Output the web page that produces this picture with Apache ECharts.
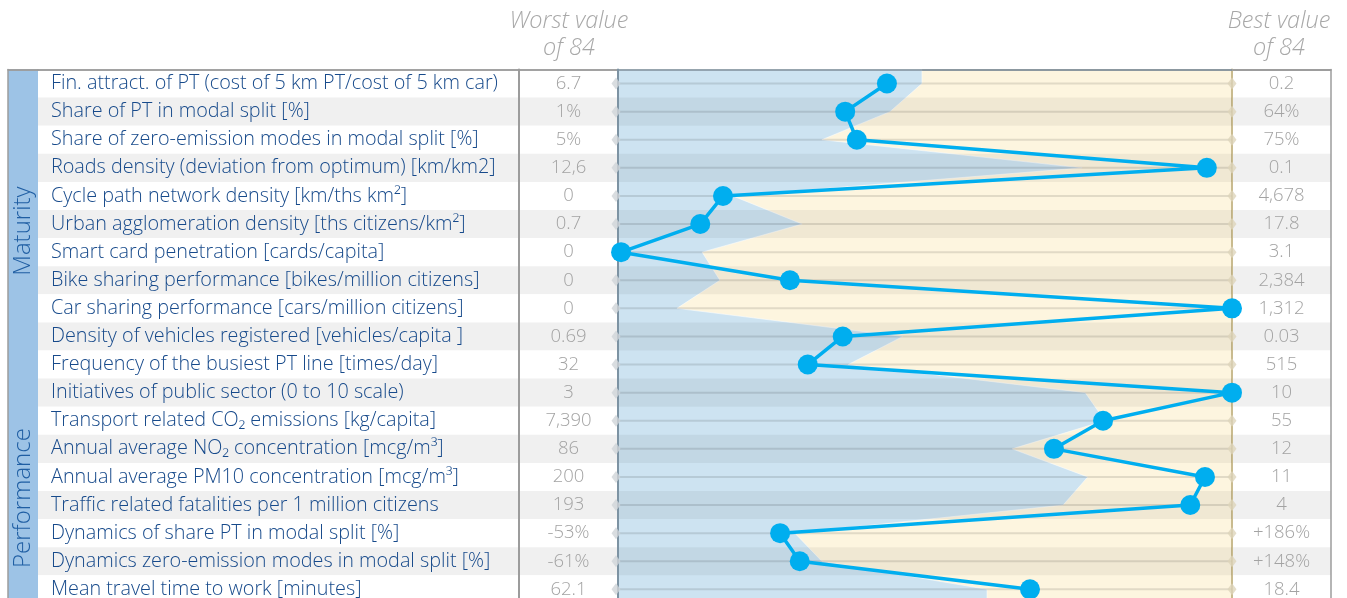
<!DOCTYPE html>
<html>
<head>
<meta charset="utf-8">
<script src="https://cdn.jsdelivr.net/npm/echarts@6/dist/echarts.min.js"></script>
<style>
  html, body { margin: 0; padding: 0; background: #fff; }
  #chart { width: 1347px; height: 598px; }
</style>
</head>
<body>
<div id="chart"></div>
<script>
// indicator rows, top to bottom
const indicators = [
    'Fin. attract. of PT (cost of 5 km PT/cost of 5 km car)',
    'Share of PT in modal split [%]',
    'Share of zero-emission modes in modal split [%]',
    'Roads density (deviation from optimum) [km/km2]',
    'Cycle path network density [km/ths km\u00b2]',
    'Urban agglomeration density [ths citizens/km\u00b2]',
    'Smart card penetration [cards/capita]',
    'Bike sharing performance [bikes/million citizens]',
    'Car sharing performance [cars/million citizens]',
    'Density of vehicles registered [vehicles/capita ]',
    'Frequency of the busiest PT line [times/day]',
    'Initiatives of public sector (0 to 10 scale)',
    'Transport related CO\u2082 emissions [kg/capita]',
    'Annual average NO\u2082 concentration [mcg/m\u00b3]',
    'Annual average PM10 concentration [mcg/m\u00b3]',
    'Traffic related fatalities per 1 million citizens',
    'Dynamics of share PT in modal split [%]',
    'Dynamics zero-emission modes in modal split [%]',
    'Mean travel time to work [minutes]'
];

const worstValues = ['6.7', '1%', '5%', '12,6', '0', '0.7', '0', '0', '0', '0.69',
    '32', '3', '7,390', '86', '200', '193', '-53%', '-61%', '62.1'];

const bestValues = ['0.2', '64%', '75%', '0.1', '4,678', '17.8', '3.1', '2,384', '1,312', '0.03',
    '515', '10', '55', '12', '11', '4', '+186%', '+148%', '18.4'];

// city position between worst (0) and best (100)
const cityScore = [43.8, 37.0, 38.9, 95.9, 17.1, 13.4, 0.5, 28.0, 100, 36.6,
    30.9, 100, 79.0, 71.0, 95.6, 93.2, 26.4, 29.6, 67.1];

// average position (blue area)
const averageScore = [49.5, 44.3, 33.2, 75.6, 18.7, 30.0, 13.7, 16.6, 9.6, 46.4,
    37.5, 76.1, 79.3, 64.2, 76.5, 72.5, 28.8, 33.2, 60.1];

// [name, first row, last row]
const groups = [['Maturity', 0, 11], ['Performance', 12, 18]];

const FONT = '"Open Sans", Roboto, sans-serif';
const TOP = 69.5;
const ROW_H = 28.1;
const H = ROW_H * indicators.length;
const BORDER = '#9c9c9c';

const chart = echarts.init(document.getElementById('chart'), null, { renderer: 'canvas' });

const sectionLine = {
    show: true,
    interval: (index) => index === groups[1][1],
    lineStyle: { color: BORDER, width: 1.5 }
};

function grid(left, width, extra) {
    return Object.assign({ left, width, top: TOP, height: H, outerBoundsMode: 'none', containLabel: false }, extra || {});
}

function xAxis(gridIndex, max) {
    return {
        type: 'value', gridIndex, min: 0, max, position: 'top',
        axisLine: { show: true, onZero: false, lineStyle: { color: BORDER, width: 1.5 } },
        axisTick: { show: false }, axisLabel: { show: false }, splitLine: { show: false }
    };
}

function yAxis(gridIndex, extra) {
    return Object.assign({
        type: 'category', gridIndex, data: indicators, inverse: true,
        axisTick: { show: false },
        axisLine: { show: false },
        axisLabel: { show: false },
        splitLine: sectionLine
    }, extra || {});
}

const zebra = { show: true, areaStyle: { color: ['#ffffff', '#f0f0f0'] } };
const valueLabel = (list) => ({
    show: true, inside: true, align: 'center', margin: 49.5,
    color: '#a3a3a3', fontSize: 18.5, fontWeight: 300, fontFamily: FONT,
    formatter: (v, i) => list[i]
});
const headStyle = { fontStyle: 'italic', fontWeight: 300, fontSize: 23.5, lineHeight: 27, color: '#a8a8a8', fontFamily: FONT };

const option = {
    animation: false,
    backgroundColor: '#ffffff',
    title: [
        { text: 'Worst value\nof 84', left: 569, top: 8, textAlign: 'center', padding: 0, textStyle: headStyle },
        { text: 'Best value\nof 84', left: 1279, top: 8, textAlign: 'center', padding: 0, textStyle: headStyle }
    ],
    grid: [
        grid(8, 30, { show: true, backgroundColor: '#9dc3e6', borderWidth: 0 }),
        grid(38, 481),
        grid(519, 99),
        grid(618, 614, { show: true, backgroundColor: '#fdf5df', borderWidth: 0 }),
        grid(1232, 99)
    ],
    xAxis: [xAxis(0, 1), xAxis(1, 1), xAxis(2, 1), xAxis(3, 100), xAxis(4, 1)],
    yAxis: [
        yAxis(0, { axisLine: { show: true, lineStyle: { color: BORDER, width: 1.5 } } }),
        yAxis(1, {
            splitArea: zebra,
            axisLabel: { show: true, inside: true, align: 'left', margin: 13, color: '#174a8b', fontSize: 19.8, fontWeight: 300, fontFamily: FONT }
        }),
        yAxis(2, {
            splitArea: zebra,
            axisLine: { show: true, lineStyle: { color: BORDER, width: 2 } },
            axisLabel: valueLabel(worstValues)
        }),
        yAxis(3, {
            z: 3,
            axisLine: { show: true, lineStyle: { color: '#7d93a3', width: 2 } },
            splitLine: Object.assign({}, sectionLine, { lineStyle: { color: '#7f8f9b', width: 1.5 } })
        }),
        yAxis(4, {
            splitArea: zebra,
            axisLine: { show: true, lineStyle: { color: '#c9bb8f', width: 2 } },
            axisLabel: valueLabel(bestValues)
        }),
        yAxis(4, { position: 'right', axisLine: { show: true, lineStyle: { color: BORDER, width: 1.5 } } })
    ],
    series: [
        {
            // group names in the left band
            type: 'custom', xAxisIndex: 0, yAxisIndex: 0, silent: true, z: 3,
            data: groups.map(g => [0.5, g[1], g[2]]),
            encode: { x: 0, y: 1 },
            renderItem: (params, api) => {
                const g = groups[params.dataIndex];
                const a = api.coord([0.5, g[1]]);
                const b = api.coord([0.5, g[2]]);
                return {
                    type: 'text', x: a[0], y: (a[1] + b[1]) / 2 - 7, rotation: Math.PI / 2,
                    style: { text: g[0], fill: '#1f5ea3', fontSize: 24, fontWeight: 300, fontFamily: FONT, align: 'center', verticalAlign: 'middle' }
                };
            }
        },
        {
            // average area
            type: 'custom', xAxisIndex: 3, yAxisIndex: 3, silent: true, z: 1,
            data: [[0, 0]],
            encode: { x: 0, y: 1 },
            renderItem: (params, api) => {
                const half = api.size([0, 1])[1] / 2;
                const last = averageScore.length - 1;
                const pts = [];
                const top0 = api.coord([0, 0]);
                pts.push([top0[0], top0[1] - half]);
                averageScore.forEach((v, i) => {
                    const p = api.coord([v, i]);
                    if (i === 0) pts.push([p[0], p[1] - half]);
                    pts.push(p);
                    if (i === last) pts.push([p[0], p[1] + half]);
                });
                const bot0 = api.coord([0, last]);
                pts.push([bot0[0], bot0[1] + half]);
                return { type: 'polygon', shape: { points: pts }, style: { fill: '#cde3f1', stroke: 'rgba(255,255,255,0.5)', lineWidth: 1 } };
            }
        },
        {
            // row bands and row guide lines
            type: 'custom', xAxisIndex: 3, yAxisIndex: 3, silent: true, z: 2,
            data: indicators.map((_, i) => [100, i]),
            encode: { x: 0, y: 1 },
            renderItem: (params, api) => {
                const i = params.dataIndex;
                const l = api.coord([0, i]);
                const r = api.coord([100, i]);
                const h = api.size([0, 1])[1];
                const children = [];
                if (i % 2 === 1) {
                    children.push({ type: 'rect', shape: { x: l[0], y: l[1] - h / 2, width: r[0] - l[0], height: h }, style: { fill: 'rgba(0,0,0,0.05)' } });
                }
                children.push({ type: 'line', shape: { x1: l[0], y1: l[1], x2: r[0], y2: r[1] }, style: { stroke: 'rgba(0,0,0,0.11)', lineWidth: 2 } });
                return { type: 'group', children };
            }
        },
        {
            type: 'scatter', xAxisIndex: 3, yAxisIndex: 3, silent: true, clip: false, z: 4,
            symbol: 'diamond', symbolSize: [9, 12], symbolOffset: [-2, 0],
            itemStyle: { color: '#cfd4d8' },
            data: indicators.map((_, i) => [0, i])
        },
        {
            type: 'scatter', xAxisIndex: 3, yAxisIndex: 3, silent: true, clip: false, z: 4,
            symbol: 'diamond', symbolSize: [9, 12],
            itemStyle: { color: '#ddd4ba' },
            data: indicators.map((_, i) => [100, i])
        },
        {
            type: 'line', xAxisIndex: 3, yAxisIndex: 3, silent: true, clip: false, z: 5,
            data: cityScore,
            symbol: 'circle', symbolSize: 20, showAllSymbol: true,
            lineStyle: { color: '#00aeef', width: 3.5 },
            itemStyle: { color: '#00aeef' }
        }
    ]
};

chart.setOption(option);
</script>
</body>
</html>
